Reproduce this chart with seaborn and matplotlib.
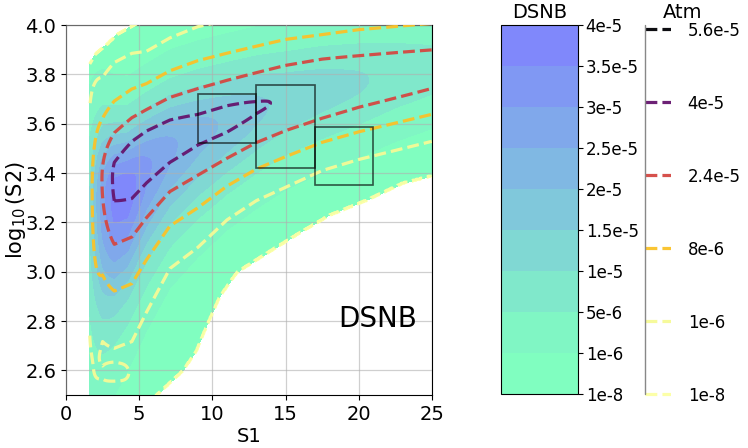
import numpy as np
import matplotlib
matplotlib.use("Agg")
import matplotlib.pyplot as plt
import matplotlib.patches as mpatches
from matplotlib.lines import Line2D
import seaborn as sns

# ---------------- data ----------------
# DSNB rate field: ridge parameters per S1 column
dsnb_s1 = [1.62, 2.5, 3.3, 4.2, 5.5, 7.1, 9.0, 11.0, 13.0, 15.0, 17.5, 20.0, 22.5, 25.0]
dsnb_peak = [1.0e-5, 2.8e-5, 3.75e-5, 3.8e-5, 3.1e-5, 2.6e-5, 2.2e-5, 1.9e-5, 1.6e-5, 1.35e-5, 1.2e-5, 1.05e-5, 8.5e-6, 7e-6]
dsnb_mu = [3.28, 3.30, 3.31, 3.33, 3.42, 3.50, 3.56, 3.61, 3.66, 3.70, 3.74, 3.77, 3.80, 3.82]
dsnb_s_hi = [0.22, 0.20, 0.18, 0.17, 0.16, 0.155, 0.15, 0.145, 0.14, 0.135, 0.13, 0.125, 0.12, 0.115]
dsnb_s_lo = [0.38, 0.34, 0.30, 0.27, 0.25, 0.22, 0.20, 0.18, 0.17, 0.16, 0.15, 0.14, 0.13, 0.12]
dsnb_floor = 5e-8

# Atmospheric background field: ridge parameters per S1 column
atm_s1 = [1.62, 2.5, 3.3, 4.5, 5.5, 7.1, 9.0, 11.0, 13.0, 15.0, 17.5, 20.0, 25.0]
atm_peak = [4e-6, 2.5e-5, 4.28e-5, 4.65e-5, 4.66e-5, 4.55e-5, 4.3e-5, 4.27e-5, 4.06e-5, 3.93e-5, 3.85e-5, 3.49e-5, 3.05e-5]
atm_mu = [3.33, 3.38, 3.38, 3.44, 3.49, 3.54, 3.58, 3.62, 3.665, 3.704, 3.741, 3.768, 3.82]
atm_s_hi = [0.20, 0.16, 0.17, 0.16, 0.145, 0.147, 0.15, 0.145, 0.138, 0.133, 0.124, 0.124, 0.114]
atm_s_lo = [0.35, 0.26, 0.25, 0.26, 0.235, 0.19, 0.175, 0.149, 0.138, 0.133, 0.122, 0.117, 0.111]
atm_floor = 3e-8
# small low-S2 island of the atmospheric field
atm_bump_s1, atm_bump_y, atm_bump_peak, atm_bump_w_s1, atm_bump_w_y = 3.3, 2.585, 1.03e-6, 1.1, 0.039

# edges of the populated region
edge_lo_s1 = [1.6, 6.0, 8.0, 8.9, 9.6, 10.5, 11.7, 14.1, 16.0, 18.0, 20.5, 23.0, 25.0]
edge_lo_y = [2.30, 2.49, 2.60, 2.68, 2.78, 2.90, 3.00, 3.09, 3.16, 3.23, 3.29, 3.36, 3.39]
edge_hi_s1 = [1.6, 2.0, 2.8, 3.5, 5.0, 25.0]
edge_hi_y = [3.84, 3.88, 3.92, 3.96, 4.01, 4.10]

dsnb_levels = [1e-8, 1e-6, 5e-6, 1e-5, 1.5e-5, 2e-5, 2.5e-5, 3e-5, 3.5e-5, 4e-5]
dsnb_labels = ['1e-8', '1e-6', '5e-6', '1e-5', '1.5e-5', '2e-5', '2.5e-5', '3e-5', '3.5e-5', '4e-5']
atm_levels = [1e-8, 1e-6, 8e-6, 2.4e-5, 4e-5, 5.6e-5]
atm_labels = ['1e-8', '1e-6', '8e-6', '2.4e-5', '4e-5', '5.6e-5']

# signal boxes: (S1 start, log10 S2 start, width, height)
box_s1 = [9.0, 13.0, 17.0]
box_y = [3.52, 3.42, 3.353]
box_w = [4.0, 4.0, 4.0]
box_h = [0.20, 0.335, 0.235]

# ---------------- fields ----------------
s1_grid = np.arange(1.62, 25.0001, 0.04)
y_grid = np.arange(2.45, 4.0501, 0.004)
S, Y = np.meshgrid(s1_grid, y_grid)


def ridge(s1k, peak, mu, shi, slo):
    A = np.interp(S, s1k, peak)
    M = np.interp(S, s1k, mu)
    sig = np.where(Y >= M, np.interp(S, s1k, shi), np.interp(S, s1k, slo))
    return A * np.exp(-0.5 * ((Y - M) / sig) ** 2)


inside = (Y >= np.interp(S, edge_lo_s1, edge_lo_y)) & (Y <= np.interp(S, edge_hi_s1, edge_hi_y))

dsnb = np.where(inside, ridge(dsnb_s1, dsnb_peak, dsnb_mu, dsnb_s_hi, dsnb_s_lo) + dsnb_floor, 0.0)
atm = ridge(atm_s1, atm_peak, atm_mu, atm_s_hi, atm_s_lo) + atm_floor
atm = atm + atm_bump_peak * np.exp(-0.5 * (((S - atm_bump_s1) / atm_bump_w_s1) ** 4
                                           + ((Y - atm_bump_y) / atm_bump_w_y) ** 2))
atm = np.where(inside, atm, 0.0)

# ---------------- plot ----------------
sns.set_theme(style="ticks", rc={"axes.edgecolor": "black", "xtick.color": "black",
                                  "ytick.color": "black", "text.color": "black",
                                  "axes.labelcolor": "black"})
plt.rcParams['font.family'] = ['DejaVu Sans']

W, H = 748, 448
fig = plt.figure(figsize=(W / 100, H / 100), dpi=100)
ax = fig.add_axes([66 / W, 1 - 395 / H, 366 / W, 370 / H])
cax1 = fig.add_axes([501 / W, 1 - 394 / H, 77 / W, 369 / H])
cax2 = fig.add_axes([645 / W, 1 - 394 / H, 26 / W, 365 / H])

# winter_r seen through 50% transparency on white
dsnb_cmap = sns.blend_palette(["#80ffbf", "#8080ff"], as_cmap=True)
cf = ax.contourf(S, Y, dsnb, levels=dsnb_levels, cmap=dsnb_cmap, zorder=1)
cl = ax.contour(S, Y, atm, levels=atm_levels, cmap=sns.color_palette("inferno_r", as_cmap=True),
                linestyles='dashed', linewidths=2.3, alpha=0.95, zorder=3)

for x0, y0, w, h in zip(box_s1, box_y, box_w, box_h):
    ax.add_patch(mpatches.Rectangle((x0, y0), w, h, fill=False, edgecolor='black',
                                    alpha=0.65, lw=1.2, zorder=4))

ax.set_xlim(0, 25)
ax.set_ylim(2.5, 4.0)
ax.set_xticks([0, 5, 10, 15, 20, 25])
ax.set_yticks([2.6, 2.8, 3.0, 3.2, 3.4, 3.6, 3.8, 4.0])
ax.grid(True, color='#b0b0b0', alpha=0.6, lw=0.9, zorder=2)
ax.set_axisbelow(False)
ax.tick_params(labelsize=14, length=3.5, width=0.8)
ax.set_xlabel('S1', fontsize=14, labelpad=2)
ax.set_ylabel(r'$\log_{10}$(S2)', fontsize=15)
ax.yaxis.set_label_coords(-0.105, 0.5)
for sp in ax.spines.values():
    sp.set_linewidth(0.8)
ax.text(18.6, 2.775, 'DSNB', fontsize=20, ha='left', va='baseline', zorder=5)

cb1 = fig.colorbar(cf, cax=cax1, ticks=dsnb_levels)
cb1.set_ticklabels(dsnb_labels)
cb1.ax.tick_params(labelsize=12, length=3.5, width=0.8, pad=2)
cb1.outline.set_linewidth(0.8)

cb2 = fig.colorbar(cl, cax=cax2, ticks=atm_levels)
cb2.set_ticklabels(atm_labels)
cb2.outline.set_visible(False)
for lc in cb2.lines:
    lc.set_linestyle('--')
cb2.ax.tick_params(labelsize=12, length=0, pad=12)
fig.add_artist(Line2D([645 / W, 645 / W], [1 - 394 / H, 1 - 25 / H], color='#888888', lw=1.0))

fig.text(539.5 / W, 1 - 13 / H, 'DSNB', fontsize=14, ha='center', va='center')
fig.text(683 / W, 1 - 12 / H, 'Atm', fontsize=14, ha='center', va='center')

fig.savefig('out.png', dpi=100)
